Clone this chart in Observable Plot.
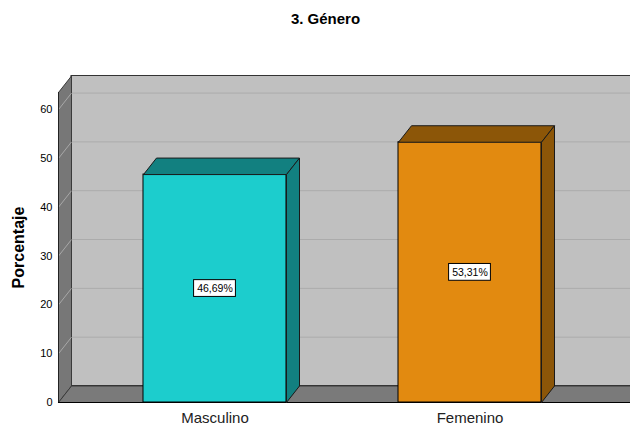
<!DOCTYPE html>
<html>
<head>
<meta charset="utf-8">
<script src="https://cdn.jsdelivr.net/npm/d3@7"></script>
<script src="https://cdn.jsdelivr.net/npm/@observablehq/plot@0.6"></script>
<style>
  html, body { margin: 0; padding: 0; background: #fff; overflow: hidden; }
  svg { display: block; }
</style>
</head>
<body>
<div id="chart"></div>
<script>
// ---- data ----
const title = "3. Género";
const yLabel = "Porcentaje";
const categories = ["Masculino", "Femenino"];
const values = [46.69, 53.31];
const yTicks = [0, 10, 20, 30, 40, 50, 60];

// ---- styles / geometry ----
const frontColors = ["#1ccdcd", "#e28a10"];
const darkColors = ["#128080", "#8c5608"];
const xDomain = [-0.6137, 1.6294];   // category index space
const yDomain = [0, 63.5];
const halfW = 0.2804;                // bar half width (category units)
const DX = 0.051;                    // depth offset in x units
const DY = 3.38;                     // depth offset in y units
const boxHW = 0.082, boxHH = 1.72;   // label box half sizes

const xmin = xDomain[0], xmax = xDomain[1], ytop = yDomain[1];
const bars = categories.map((c, i) => ({cat: c, i, v: values[i], front: frontColors[i], dark: darkColors[i],
  label: values[i].toFixed(2).replace(".", ",") + "%"}));

// polygons (in data space) for 3D faces
function poly(id, fill, pts) { return pts.concat([pts[0]]).map(([x, y]) => ({id, fill, x, y})); }
const walls = [
  ...poly("side", "#777777", [[xmin, 0], [xmin, ytop], [xmin + DX, ytop + DY], [xmin + DX, DY]]),
  ...poly("floor", "#7a7a7a", [[xmin, 0], [xmax, 0], [xmax + DX, DY], [xmin + DX, DY]])
];
const faces = bars.flatMap(b => [
  ...poly("top" + b.i, b.dark, [[b.i - halfW, b.v], [b.i + halfW, b.v], [b.i + halfW + DX, b.v + DY], [b.i - halfW + DX, b.v + DY]]),
  ...poly("side" + b.i, b.dark, [[b.i + halfW, 0], [b.i + halfW + DX, DY], [b.i + halfW + DX, b.v + DY], [b.i + halfW, b.v]])
]);

const chart = Plot.plot({
  width: 630,
  height: 425,
  marginLeft: 58,
  marginRight: 0,
  marginTop: 92,
  marginBottom: 23,
  style: {fontFamily: "'Liberation Sans', Arial, sans-serif", fontSize: "11px", background: "#fff", color: "#000"},
  x: {type: "linear", domain: xDomain, axis: null},
  y: {domain: yDomain, ticks: yTicks, tickSize: 0, tickPadding: 6, label: null, tickFormat: d => String(d)},
  color: {type: "identity"},
  marks: [
    // back wall
    Plot.rect([0], {x1: () => xmin + DX, x2: () => xmax + DX + 0.2, y1: () => DY, y2: () => ytop + DY, fill: "#c0c0c0", stroke: "#333", strokeWidth: 1}),
    // back wall gridlines
    Plot.ruleY(yTicks.filter(t => t > 0), {y: d => d + DY, x1: () => xmin + DX, x2: () => xmax + DX + 0.2, stroke: "#ababab", strokeWidth: 1}),
    // side wall + floor
    Plot.line(walls, {x: "x", y: "y", z: "id", fill: "fill", stroke: "#3a3a3a", strokeWidth: 1}),
    // side wall gridlines
    Plot.link(yTicks.filter(t => t > 0), {x1: () => xmin, y1: d => d, x2: () => xmin + DX, y2: d => d + DY, stroke: "#a8a8a8", strokeWidth: 1}),
    // front axis lines
    Plot.ruleY([0], {x1: () => xmin, x2: () => xmax + 0.2, stroke: "#000", strokeWidth: 1}),
    Plot.ruleX([xmin], {y1: 0, y2: ytop, stroke: "#222", strokeWidth: 1}),
    // bars: front faces
    Plot.rect(bars, {x1: d => d.i - halfW, x2: d => d.i + halfW, y1: 0, y2: "v", fill: "front", stroke: "#000", strokeWidth: 1}),
    // bars: top & side faces
    Plot.line(faces, {x: "x", y: "y", z: "id", fill: "fill", stroke: "#1a1a1a", strokeWidth: 1}),
    // value label boxes
    Plot.rect(bars, {x1: d => d.i - boxHW, x2: d => d.i + boxHW, y1: d => d.v / 2 - boxHH, y2: d => d.v / 2 + boxHH, fill: "#fff", stroke: "#000", strokeWidth: 1}),
    Plot.text(bars, {x: "i", y: d => d.v / 2, text: "label", fontSize: 10.5, fill: "#000"}),
    // category labels
    Plot.text(bars, {x: "i", y: () => 0, text: "cat", dy: 16, fontSize: 15, fill: "#222"}),
    // y label
    Plot.text([yLabel], {frameAnchor: "left", textAnchor: "middle", lineAnchor: "middle", dx: -40, rotate: -90, fontSize: 16, fontWeight: "bold", fill: "#000"}),
    // title
    Plot.text([title], {frameAnchor: "top", dx: -19, dy: -79, fontSize: 15, fontWeight: "bold", fill: "#000"})
  ]
});
document.getElementById("chart").appendChild(chart);
</script>
</body>
</html>
